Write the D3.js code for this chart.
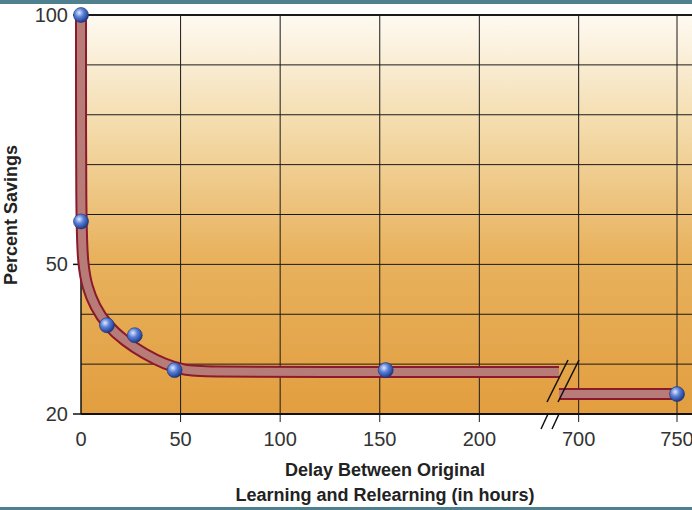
<!DOCTYPE html>
<html><head><meta charset="utf-8">
<script src="https://cdn.jsdelivr.net/npm/d3@7"></script>
<style>body{margin:0;background:#fff}svg{display:block}</style>
</head><body><div id="chart"></div>
<script>
// data (hours, percent savings)
const pointHours = [0, 0, 13, 27, 47, 153, 750];
const pointSavings = [100, 58.6, 37.8, 35.8, 28.8, 28.8, 24];
// smooth curve before the axis break
const curveHours = [0, 0, 1, 3, 7, 13, 22, 32, 42, 52, 60, 120, 200, 240];
const curveSavings = [100, 58, 50, 45.5, 41.5, 37.8, 34.6, 32, 30, 28.8, 28.5, 28.4, 28.4, 28.4];
// after the break
const tailHours = [690, 750];
const tailSavings = [24, 24];
const xTicks = [0, 50, 100, 150, 200, 700, 750];
const yTicks = [20, 50, 100];
const yGrid = [30, 40, 50, 60, 70, 80, 90, 100];

const W = 692, H = 510;
const FONT = "Liberation Sans, Arial, sans-serif";
const svg = d3.select("#chart").append("svg").attr("width", W).attr("height", H);

const x = d3.scaleLinear().domain([0, 240, 690, 750]).range([81, 559, 559, 677]);
const y = d3.scaleLinear().domain([20, 100]).range([414, 15]);

const defs = svg.append("defs");
const bg = defs.append("linearGradient").attr("id", "bg").attr("x1", 0).attr("x2", 0).attr("y1", 0).attr("y2", 1);
bg.append("stop").attr("offset", "0%").attr("stop-color", "#fefaf2");
bg.append("stop").attr("offset", "30%").attr("stop-color", "#f3d9a6");
bg.append("stop").attr("offset", "60%").attr("stop-color", "#e8b25e");
bg.append("stop").attr("offset", "100%").attr("stop-color", "#e29e3f");
const ball = defs.append("radialGradient").attr("id", "ball").attr("cx", "38%").attr("cy", "35%").attr("r", "65%");
ball.append("stop").attr("offset", "0%").attr("stop-color", "#dfe9ff");
ball.append("stop").attr("offset", "45%").attr("stop-color", "#5b80d8");
ball.append("stop").attr("offset", "100%").attr("stop-color", "#1d3a8a");

// frame bars
svg.append("rect").attr("x", 0).attr("y", 0).attr("width", W).attr("height", 4).attr("fill", "#4e8090");
svg.append("rect").attr("x", 0).attr("y", H - 3).attr("width", W).attr("height", 3).attr("fill", "#4e8090");

svg.append("rect").attr("x", 81).attr("y", 15).attr("width", W - 81).attr("height", 399).attr("fill", "url(#bg)");

// grid
svg.append("g").selectAll("line").data(yGrid).join("line")
  .attr("x1", 81).attr("x2", W).attr("y1", d => y(d)).attr("y2", d => y(d))
  .attr("stroke", "#1a1a1a").attr("stroke-width", d => d === 100 ? 2 : 1);
svg.append("g").selectAll("line").data(xTicks.slice(1)).join("line")
  .attr("x1", d => x(d)).attr("x2", d => x(d)).attr("y1", 15).attr("y2", 422)
  .attr("stroke", "#1a1a1a").attr("stroke-width", 1);
svg.append("line").attr("x1", 81).attr("x2", W).attr("y1", 414).attr("y2", 414).attr("stroke", "#111").attr("stroke-width", 2);
svg.append("line").attr("x1", 81).attr("x2", 81).attr("y1", 15).attr("y2", 414).attr("stroke", "#111").attr("stroke-width", 1.5);

// axes labels
svg.append("g").selectAll("text").data(xTicks).join("text")
  .attr("x", d => x(d)).attr("y", 446).attr("text-anchor", "middle")
  .attr("font-family", FONT).attr("font-size", 20).attr("fill", "#333").text(d => d);
svg.append("g").selectAll("line").data(yTicks).join("line")
  .attr("x1", 73).attr("x2", 81).attr("y1", d => y(d)).attr("y2", d => y(d)).attr("stroke", "#111").attr("stroke-width", 1.5);
svg.append("g").selectAll("text").data(yTicks).join("text")
  .attr("x", 68).attr("y", d => y(d) + 7).attr("text-anchor", "end")
  .attr("font-family", FONT).attr("font-size", 20).attr("fill", "#333").text(d => d);

svg.append("text").attr("transform", "translate(17,215) rotate(-90)").attr("text-anchor", "middle")
  .attr("font-family", FONT).attr("font-weight", "bold").attr("font-size", 18).attr("fill", "#222").text("Percent Savings");
svg.append("text").attr("x", 385).attr("y", 476).attr("text-anchor", "middle")
  .attr("font-family", FONT).attr("font-weight", "bold").attr("font-size", 18).attr("fill", "#222").text("Delay Between Original");
svg.append("text").attr("x", 385).attr("y", 501).attr("text-anchor", "middle")
  .attr("font-family", FONT).attr("font-weight", "bold").attr("font-size", 18).attr("fill", "#222").text("Learning and Relearning (in hours)");

// curve
const curvePts = d3.zip(curveHours, curveSavings);
const lineX = d3.line().x(d => x(d[0])).y(d => y(d[1])).curve(d3.curveBasis);
const lineS = d3.line().x(d => x(d[0])).y(d => y(d[1]));
[[12, "#8a1a2c"], [8, "#b87c78"]].forEach(([w, c]) => {
  svg.append("path").attr("d", lineX(curvePts)).attr("fill", "none").attr("stroke", c).attr("stroke-width", w);
  svg.append("path").attr("d", lineS(d3.zip(tailHours, tailSavings)))
    .attr("fill", "none").attr("stroke", c).attr("stroke-width", w);
});

// break marks
const brk = svg.append("g").attr("stroke", "#111").attr("stroke-width", 1.5);
[0, 11].forEach(o => {
  brk.append("line").attr("x1", 547 + o).attr("y1", 402).attr("x2", 568 + o).attr("y2", 360);
  brk.append("line").attr("x1", 541 + o).attr("y1", 429).attr("x2", 548 + o).attr("y2", 414);
});

// points
svg.append("g").selectAll("circle").data(d3.zip(pointHours, pointSavings)).join("circle")
  .attr("cx", d => x(d[0])).attr("cy", d => y(d[1])).attr("r", 7.5)
  .attr("fill", "url(#ball)").attr("stroke", "#1d3370").attr("stroke-width", 0.6);
</script></body></html>
